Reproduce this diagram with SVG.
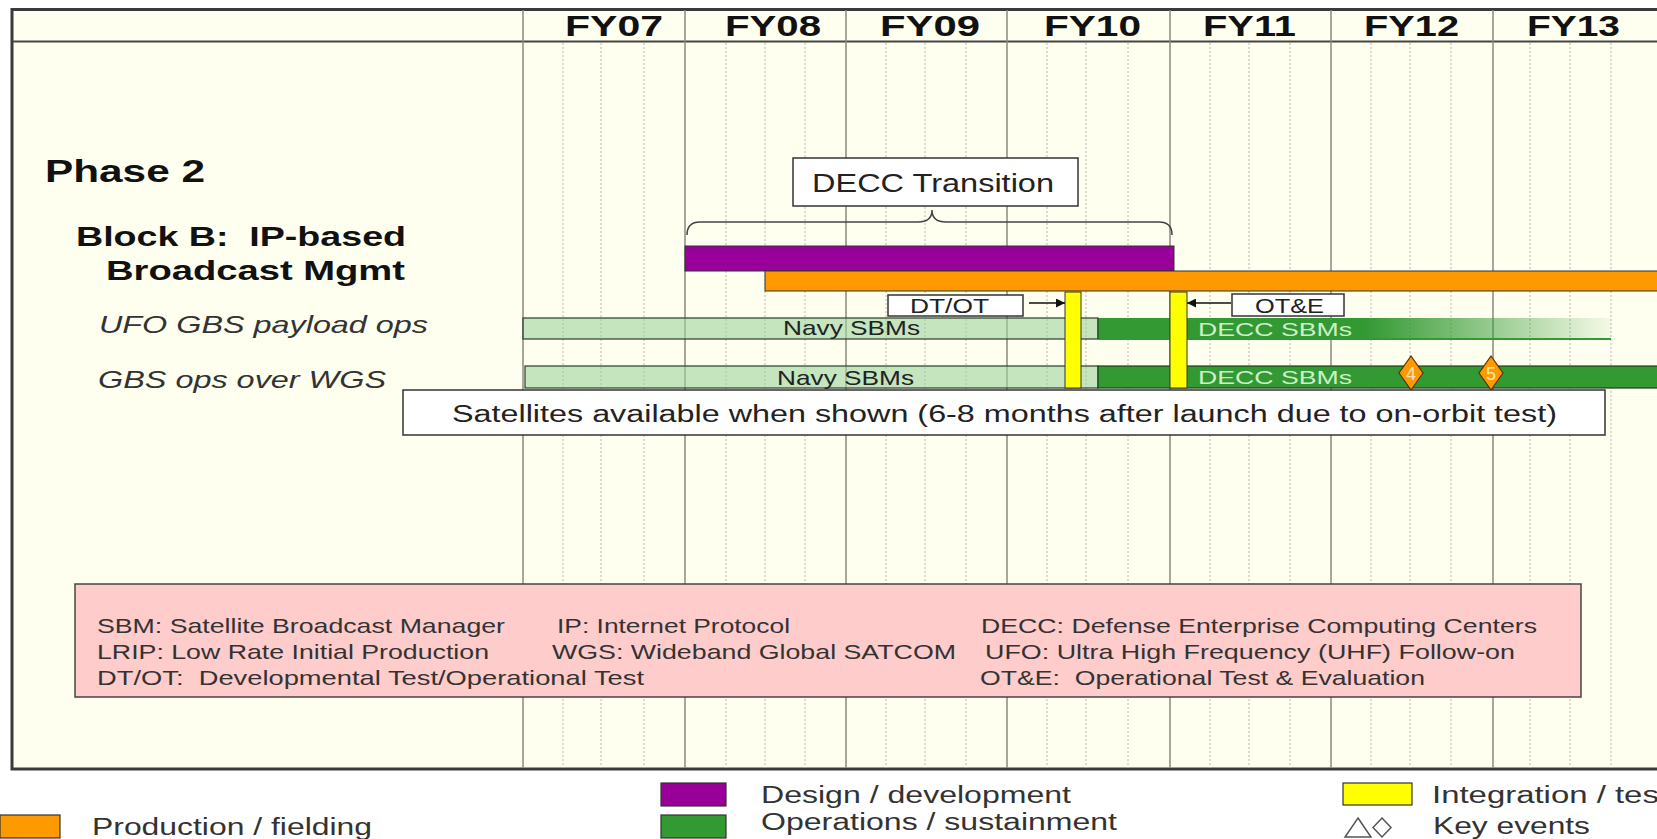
<svg xmlns="http://www.w3.org/2000/svg" width="1657" height="839" viewBox="0 0 1657 839">
<defs>
<style>
text{font-family:"Liberation Sans",Arial,sans-serif;}
.fy{font-size:29px;font-weight:bold;fill:#111;}
.hd{font-weight:bold;fill:#111;}
.it{font-style:italic;font-size:24px;fill:#333;}
.box{fill:#fff;stroke:#333;stroke-width:1.5;}
.lbl{fill:#222;}
.navy{fill:#9FD49F;fill-opacity:0.6;stroke:#2a3a2a;stroke-width:1.2;}
.decc{fill:#339933;stroke:#1f3f1f;stroke-width:1.2;}
.dtxt{font-size:19px;fill:#cdf0c8;}
.leg{font-size:21px;fill:#333;}
.bl{font-size:23px;fill:#333;}
.solid{stroke:#8a8a80;stroke-width:1.5;}
.dot{stroke:#b8b8b0;stroke-width:1;stroke-dasharray:2 2;}
.dia{fill:#FF9900;stroke:#5a3000;stroke-width:1.2;}
.dnum{font-size:18px;fill:#ffe6b0;text-anchor:middle;}
.sw{stroke:#333;stroke-width:1.2;}
</style>
<linearGradient id="fade" gradientUnits="userSpaceOnUse" x1="1098" y1="0" x2="1611" y2="0">
<stop offset="0" stop-color="#339933" stop-opacity="1"/>
<stop offset="0.52" stop-color="#339933" stop-opacity="1"/>
<stop offset="1" stop-color="#339933" stop-opacity="0.05"/>
</linearGradient>
<marker id="ah" viewBox="0 0 10 10" refX="10" refY="5" markerWidth="11" markerHeight="9" orient="auto" markerUnits="userSpaceOnUse">
<path d="M0,0 L10,5 L0,10 z" fill="#111"/>
</marker>
</defs>
<rect width="1657" height="839" fill="#fff"/>
<g id="frame">
<rect x="12" y="9" width="1650" height="760" fill="#FFFFF0"/>
<path d="M1660,9.5 L12,9.5 L12,769 L1660,769" fill="none" stroke="#3a3a3a" stroke-width="3"/>
<line x1="12" y1="41.5" x2="1657" y2="41.5" stroke="#444" stroke-width="2"/>
</g>
<g id="grid">
<g class="solid">
<line x1="523" y1="10" x2="523" y2="768"/>
<line x1="685" y1="10" x2="685" y2="768"/>
<line x1="846" y1="10" x2="846" y2="768"/>
<line x1="1007" y1="10" x2="1007" y2="768"/>
<line x1="1170" y1="10" x2="1170" y2="768"/>
<line x1="1331" y1="10" x2="1331" y2="768"/>
<line x1="1493" y1="10" x2="1493" y2="768"/>
</g>
<g class="dot">
<line x1="563" y1="43" x2="563" y2="768"/><line x1="601" y1="43" x2="601" y2="768"/><line x1="644" y1="43" x2="644" y2="768"/>
<line x1="726" y1="43" x2="726" y2="768"/><line x1="765" y1="43" x2="765" y2="768"/><line x1="805" y1="43" x2="805" y2="768"/>
<line x1="886" y1="43" x2="886" y2="768"/><line x1="925" y1="43" x2="925" y2="768"/><line x1="966" y1="43" x2="966" y2="768"/>
<line x1="1047" y1="43" x2="1047" y2="768"/><line x1="1086" y1="43" x2="1086" y2="768"/><line x1="1128" y1="43" x2="1128" y2="768"/>
<line x1="1210" y1="43" x2="1210" y2="768"/><line x1="1249" y1="43" x2="1249" y2="768"/><line x1="1290" y1="43" x2="1290" y2="768"/>
<line x1="1371" y1="43" x2="1371" y2="768"/><line x1="1410" y1="43" x2="1410" y2="768"/><line x1="1451" y1="43" x2="1451" y2="768"/>
<line x1="1530" y1="43" x2="1530" y2="768"/><line x1="1570" y1="43" x2="1570" y2="768"/><line x1="1611" y1="43" x2="1611" y2="768"/>
</g>
</g>
<g id="years">
<text class="fy" x="565" y="36" textLength="98" lengthAdjust="spacingAndGlyphs">FY07</text>
<text class="fy" x="725" y="36" textLength="96" lengthAdjust="spacingAndGlyphs">FY08</text>
<text class="fy" x="880" y="36" textLength="100" lengthAdjust="spacingAndGlyphs">FY09</text>
<text class="fy" x="1044" y="36" textLength="97" lengthAdjust="spacingAndGlyphs">FY10</text>
<text class="fy" x="1203" y="36" textLength="93" lengthAdjust="spacingAndGlyphs">FY11</text>
<text class="fy" x="1364" y="36" textLength="95" lengthAdjust="spacingAndGlyphs">FY12</text>
<text class="fy" x="1527" y="36" textLength="93" lengthAdjust="spacingAndGlyphs">FY13</text>
</g>
<g id="labels">
<text class="hd" x="45" y="182" font-size="31" textLength="160" lengthAdjust="spacingAndGlyphs">Phase 2</text>
<text class="hd" x="76" y="246" font-size="28" textLength="330" lengthAdjust="spacingAndGlyphs" xml:space="preserve">Block B:  IP-based</text>
<text class="hd" x="106" y="280" font-size="28" textLength="299" lengthAdjust="spacingAndGlyphs">Broadcast Mgmt</text>
<text class="it" x="99" y="333" textLength="329" lengthAdjust="spacingAndGlyphs">UFO GBS payload ops</text>
<text class="it" x="98" y="388" textLength="288" lengthAdjust="spacingAndGlyphs">GBS ops over WGS</text>
</g>
<g id="decc-transition">
<rect class="box" x="793" y="158" width="285" height="48"/>
<text class="lbl" x="812" y="192" font-size="25" textLength="242" lengthAdjust="spacingAndGlyphs">DECC Transition</text>
</g>
<g id="design-bar"><rect x="685" y="246" width="489" height="25" fill="#990099" stroke="#333" stroke-width="1"/></g>
<g id="production-bar"><rect x="765" y="271" width="900" height="20" fill="#FF9900" stroke="#333" stroke-width="1"/></g>
<g id="ufo-navy">
<rect class="navy" x="523" y="318" width="575" height="21"/>
<text class="lbl" x="783" y="335" font-size="21" textLength="137" lengthAdjust="spacingAndGlyphs">Navy SBMs</text>
</g>
<g id="ufo-decc">
<rect x="1098" y="318" width="513" height="21" fill="url(#fade)"/>
<line x1="1098" y1="339" x2="1611" y2="339" stroke="#339933" stroke-width="2"/>
<line x1="1098" y1="318" x2="1098" y2="339" stroke="#1f3f1f" stroke-width="1"/>
<text class="dtxt" x="1198" y="336" textLength="154" lengthAdjust="spacingAndGlyphs">DECC SBMs</text>
</g>
<g id="wgs-navy">
<rect class="navy" x="525" y="366" width="573" height="22"/>
<text class="lbl" x="777" y="385" font-size="21" textLength="137" lengthAdjust="spacingAndGlyphs">Navy SBMs</text>
</g>
<g id="wgs-decc">
<rect class="decc" x="1098" y="366" width="565" height="22"/>
<text class="dtxt" x="1198" y="384" textLength="154" lengthAdjust="spacingAndGlyphs">DECC SBMs</text>
</g>
<g id="dtot-test"><rect x="1065" y="292" width="16" height="96" fill="#FFFF00" stroke="#333" stroke-width="1"/></g>
<g id="ote-test"><rect x="1170" y="292" width="17" height="96" fill="#FFFF00" stroke="#333" stroke-width="1"/></g>
<g id="dtot">
<rect class="box" x="888" y="295" width="135" height="21"/>
<text class="lbl" x="910" y="313" font-size="20" textLength="79" lengthAdjust="spacingAndGlyphs">DT/OT</text>
</g>
<g id="ote">
<rect class="box" x="1232" y="294" width="112" height="22"/>
<text class="lbl" x="1255" y="313" font-size="20" textLength="69" lengthAdjust="spacingAndGlyphs">OT&amp;E</text>
</g>
<g id="event-4">
<polygon class="dia" points="1411,356 1423,373 1411,390 1399,373"/>
<text class="dnum" x="1411" y="380">4</text>
</g>
<g id="event-5">
<polygon class="dia" points="1491,356 1503,373 1491,390 1479,373"/>
<text class="dnum" x="1491" y="380">5</text>
</g>
<g id="satellites-note">
<rect class="box" x="403" y="390" width="1202" height="45"/>
<text class="lbl" x="452" y="422" font-size="23" textLength="1105" lengthAdjust="spacingAndGlyphs">Satellites available when shown (6-8 months after launch due to on-orbit test)</text>
</g>
<g id="connectors" fill="none" stroke="#111" stroke-width="1.5">
<path d="M687,235 Q687,222 700,222 L918,222 Q932,222 932,210 Q932,222 946,222 L1159,222 Q1172,222 1172,235" stroke="#444"/>
<line x1="1029" y1="303" x2="1065" y2="303" marker-end="url(#ah)"/>
<line x1="1231" y1="303" x2="1187" y2="303" marker-end="url(#ah)"/>
</g>
<g id="acronyms">
<rect x="75" y="584" width="1506" height="113" fill="#FFCCCC" stroke="#444" stroke-width="1.5"/>
<text class="leg" x="97" y="633" textLength="408" lengthAdjust="spacingAndGlyphs">SBM: Satellite Broadcast Manager</text>
<text class="leg" x="557" y="633" textLength="233" lengthAdjust="spacingAndGlyphs">IP: Internet Protocol</text>
<text class="leg" x="981" y="633" textLength="556" lengthAdjust="spacingAndGlyphs">DECC: Defense Enterprise Computing Centers</text>
<text class="leg" x="97" y="659" textLength="392" lengthAdjust="spacingAndGlyphs">LRIP: Low Rate Initial Production</text>
<text class="leg" x="552" y="659" textLength="404" lengthAdjust="spacingAndGlyphs">WGS: Wideband Global SATCOM</text>
<text class="leg" x="985" y="659" textLength="530" lengthAdjust="spacingAndGlyphs">UFO: Ultra High Frequency (UHF) Follow-on</text>
<text class="leg" x="97" y="685" textLength="547" lengthAdjust="spacingAndGlyphs" xml:space="preserve">DT/OT:  Developmental Test/Operational Test</text>
<text class="leg" x="980" y="685" textLength="445" lengthAdjust="spacingAndGlyphs" xml:space="preserve">OT&amp;E:  Operational Test &amp; Evaluation</text>
</g>
<g id="legend">
<rect class="sw" x="0" y="815" width="60" height="23" fill="#FF9900"/>
<text class="bl" x="92" y="835" textLength="280" lengthAdjust="spacingAndGlyphs">Production / fielding</text>
<rect class="sw" x="661" y="783" width="65" height="23" fill="#990099"/>
<text class="bl" x="761" y="803" textLength="310" lengthAdjust="spacingAndGlyphs">Design / development</text>
<rect class="sw" x="661" y="815" width="65" height="23" fill="#339933"/>
<text class="bl" x="761" y="830" textLength="356" lengthAdjust="spacingAndGlyphs">Operations / sustainment</text>
<rect class="sw" x="1343" y="783" width="69" height="22" fill="#FFFF00"/>
<text class="bl" x="1432" y="803" textLength="236" lengthAdjust="spacingAndGlyphs">Integration / test</text>
<polygon points="1358,818 1371,837 1345,837" fill="none" stroke="#555" stroke-width="1.5"/>
<polygon points="1382,818 1391,827.5 1382,837 1373,827.5" fill="none" stroke="#555" stroke-width="1.5"/>
<text class="bl" x="1433" y="834" textLength="157" lengthAdjust="spacingAndGlyphs">Key events</text>
</g>
</svg>
